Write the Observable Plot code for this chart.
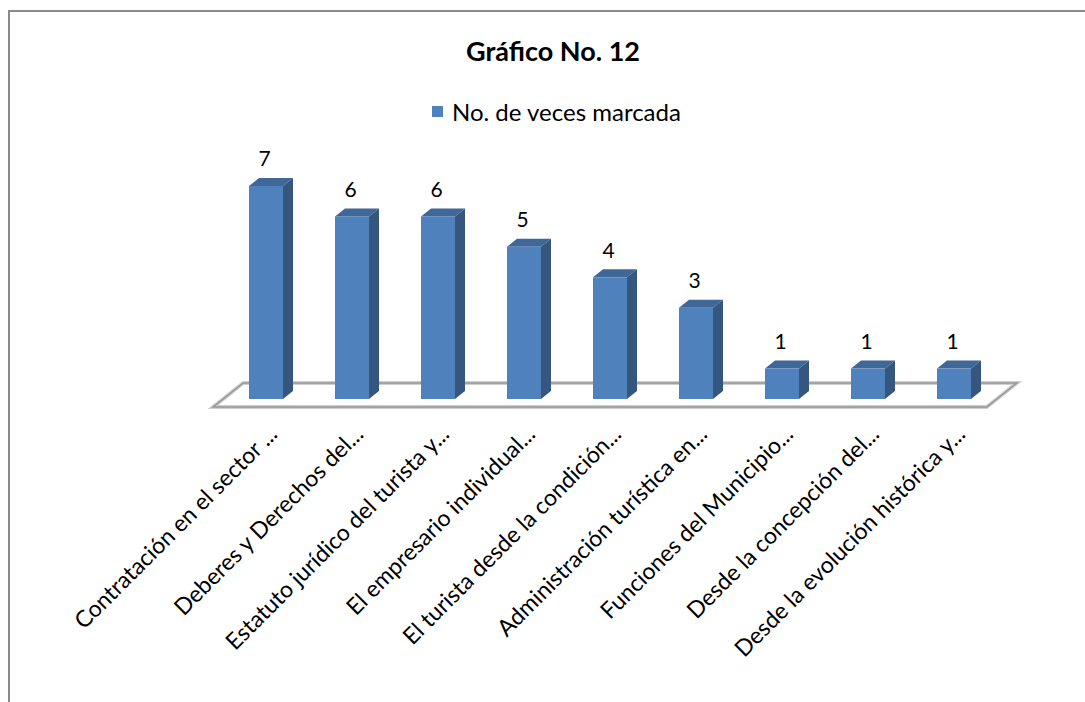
<!DOCTYPE html>
<html>
<head>
<meta charset="utf-8">
<script src="https://cdn.jsdelivr.net/npm/d3@7"></script>
<script src="https://cdn.jsdelivr.net/npm/@observablehq/plot@0.6"></script>
<style>
  body { margin: 0; background: #fff; }
  #wrap { position: relative; width: 1085px; height: 702px; overflow: hidden; font-family: Lato, "Open Sans", sans-serif; }
  #border { position: absolute; left: 8px; top: 10px; width: 1200px; height: 800px; border-top: 2px solid #8a8a8a; border-left: 2px solid #8a8a8a; pointer-events: none; }
  #header { position: relative; height: 130px; }
  #title { position: absolute; top: 34px; left: 0; width: 1106px; text-align: center; font-weight: bold; font-size: 27px; color: #000; }
  #legend { position: absolute; top: 97px; left: 432px; display: flex; align-items: center; font-size: 24px; color: #000; }
  #legend .sw { width: 11px; height: 11px; background: #4f81bd; margin-right: 9px; }
  #chart svg { display: block; }
</style>
</head>
<body>
<div id="wrap">
  <div id="header">
    <div id="title"></div>
    <div id="legend"><span class="sw"></span><span id="legtext"></span></div>
  </div>
  <div id="chart"></div>
  <div id="border"></div>
</div>
<script>
const title = "Gráfico No. 12";
const seriesName = "No. de veces marcada";
const categories = [
  "Contratación en el sector ...",
  "Deberes y Derechos del...",
  "Estatuto jurídico del turista y...",
  "El empresario individual...",
  "El turista desde la condición...",
  "Administración turística en...",
  "Funciones del Municipio...",
  "Desde la concepción del...",
  "Desde la evolución histórica y..."
];
const values = [7, 6, 6, 5, 4, 3, 1, 1, 1];

document.getElementById("title").textContent = title;
document.getElementById("legtext").textContent = seriesName;

const data = categories.map((c, i) => ({category: c, value: values[i]}));

const FRONT = "#4f81bd", SIDE = "#34567f", TOP = "#3f6798";
const DX = 10, DY = -8;
const PAD_OUTER = 0.3;

function threeD(index, scales, vals, dims) {
  const x = scales.x, y = scales.y;
  let bw = x.bandwidth;
  if (typeof bw === "function") bw = bw();
  if (bw == null && x.scale) bw = x.scale.bandwidth();
  const first = x(categories[0]), second = x(categories[1]), last = x(categories[categories.length - 1]);
  const step = second - first;
  const r0 = first - PAD_OUTER * step, r1 = last + bw + PAD_OUTER * step;
  const y0 = y(0);
  const g = d3.create("svg:g");
  const floor = [
    [r0 - DX, y0 - DY], [r1 - DX, y0 - DY],
    [r1 + 2 * DX, y0 + 2 * DY], [r0 + 2 * DX, y0 + 2 * DY]
  ];
  g.append("polygon")
    .attr("points", floor.map(p => p.join(",")).join(" "))
    .attr("fill", "#fff").attr("stroke", "#cfcfcf").attr("stroke-width", 4);
  g.append("polygon")
    .attr("points", floor.map(p => p.join(",")).join(" "))
    .attr("fill", "none").attr("stroke", "#979797").attr("stroke-width", 1.6);
  for (const d of data) {
    const xl = x(d.category), xrr = xl + bw, yt = y(d.value);
    g.append("polygon")
      .attr("points", [[xl, yt], [xrr, yt], [xrr + DX, yt + DY], [xl + DX, yt + DY]].map(p => p.join(",")).join(" "))
      .attr("fill", TOP);
    g.append("polygon")
      .attr("points", [[xrr, yt], [xrr + DX, yt + DY], [xrr + DX, y0 + DY], [xrr, y0]].map(p => p.join(",")).join(" "))
      .attr("fill", SIDE);
  }
  return g.node();
}

const plot = Plot.plot({
  width: 1085,
  height: 572,
  marginTop: 0, marginRight: 0, marginBottom: 0, marginLeft: 0,
  x: {domain: categories, range: [221.9, 998.1], paddingInner: 0.6, paddingOuter: PAD_OUTER, axis: null},
  y: {domain: [0, 7], range: [269, 56], axis: null},
  style: {fontFamily: "Lato, 'Open Sans', sans-serif", background: "transparent"},
  marks: [
    threeD,
    Plot.barY(data, {x: "category", y: "value", fill: FRONT, inset: 0}),
    Plot.text(data, {x: "category", y: "value", text: d => String(d.value), dy: -27, dx: -2, fontSize: 21, fill: "#000"}),
    Plot.text(data, {x: "category", y: () => 0, text: "category", rotate: -45, textAnchor: "end", dx: 7, dy: 31, fontSize: 23, fill: "#000"})
  ]
});
document.getElementById("chart").appendChild(plot);
</script>
</body>
</html>
